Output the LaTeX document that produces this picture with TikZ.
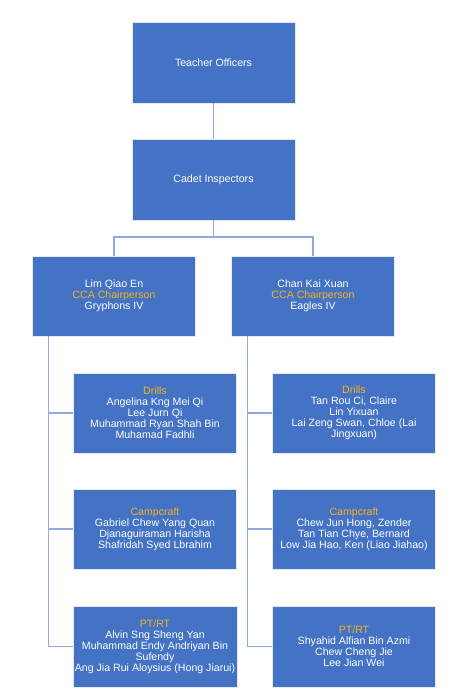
\documentclass[tikz,border=0pt]{standalone}
\usepackage{fontspec}
\setmainfont{Liberation Sans}
\usepackage{tikz}
\usepackage{color, colortbl}
\definecolor{caixa}{HTML}{4472C4}
\definecolor{linha}{HTML}{8FAADC}
\definecolor{cargo}{HTML}{F2B321}

\begin{document}
\begin{tikzpicture}[x=1pt,y=1pt]
\tikzstyle{caixa}=[rectangle, fill=caixa, draw=white!85!caixa, line width=0.6pt, text=white, align=center, minimum width=163pt, minimum height=81pt, inner sep=2pt, font=\fontsize{10.6}{11.1}\selectfont]
\tikzstyle{ligacao}=[draw=linha, line width=1.1pt]
\useasboundingbox (0,0) rectangle (450,-699);
 \node[caixa] (to) at (213.5,-62.5) {Teacher Officers};
 \node[caixa] (ci) at (213.5,-179.5) {Cadet Inspectors};
 \node[caixa, minimum height=80pt] (lim) at (114,-296) {Lim Qiao En\\\textcolor{cargo}{CCA Chairperson}\\Gryphons IV};
 \node[caixa, minimum height=80pt] (chan) at (313,-296) {Chan Kai Xuan\\\textcolor{cargo}{CCA Chairperson}\\Eagles IV};
 \node[caixa, minimum height=80pt] (ldrills) at (155,-413) {\textcolor{cargo}{Drills}\\Angelina Kng Mei Qi\\Lee Jurn Qi\\Muhammad Ryan Shah Bin\\Muhamad Fadhli};
 \node[caixa, minimum height=80pt] (rdrills) at (354,-413) {\textcolor{cargo}{Drills}\\Tan Rou Ci, Claire\\Lin Yixuan\\Lai Zeng Swan, Chloe (Lai\\Jingxuan)};
 \node[caixa, minimum height=80pt] (lcamp) at (155,-529) {\textcolor{cargo}{Campcraft}\\Gabriel Chew Yang Quan\\Djanaguiraman Harisha\\Shafridah Syed Lbrahim};
 \node[caixa, minimum height=80pt] (rcamp) at (354,-529) {\textcolor{cargo}{Campcraft}\\Chew Jun Hong, Zender\\Tan Tian Chye, Bernard\\Low Jia Hao, Ken (Liao Jiahao)};
 \node[caixa] (lpt) at (155,-646.5) {\textcolor{cargo}{PT/RT}\\Alvin Sng Sheng Yan\\Muhammad Endy Andriyan Bin\\Sufendy\\Ang Jia Rui Aloysius (Hong Jiarui)};
 \node[caixa] (rpt) at (354,-646.5) {\textcolor{cargo}{PT/RT}\\Shyahid Alfian Bin Azmi\\Chew Cheng Jie\\Lee Jian Wei};
 \coordinate (barra) at (213.5,-237);
 \coordinate (leixo) at ([xshift=16pt]lim.south west);
 \coordinate (reixo) at ([xshift=16pt]chan.south west);
 \draw[ligacao] (to.south) -- (ci.north);
 \draw[ligacao] (ci.south) -- (barra);
 \draw[ligacao] (lim.north) |- (barra) -| (chan.north);
 \draw[ligacao] (leixo) |- (lpt.west);
 \draw[ligacao] (leixo |- ldrills.west) -- (ldrills.west);
 \draw[ligacao] (leixo |- lcamp.west) -- (lcamp.west);
 \draw[ligacao] (reixo) |- (rpt.west);
 \draw[ligacao] (reixo |- rdrills.west) -- (rdrills.west);
 \draw[ligacao] (reixo |- rcamp.west) -- (rcamp.west);
\end{tikzpicture}
\end{document}
